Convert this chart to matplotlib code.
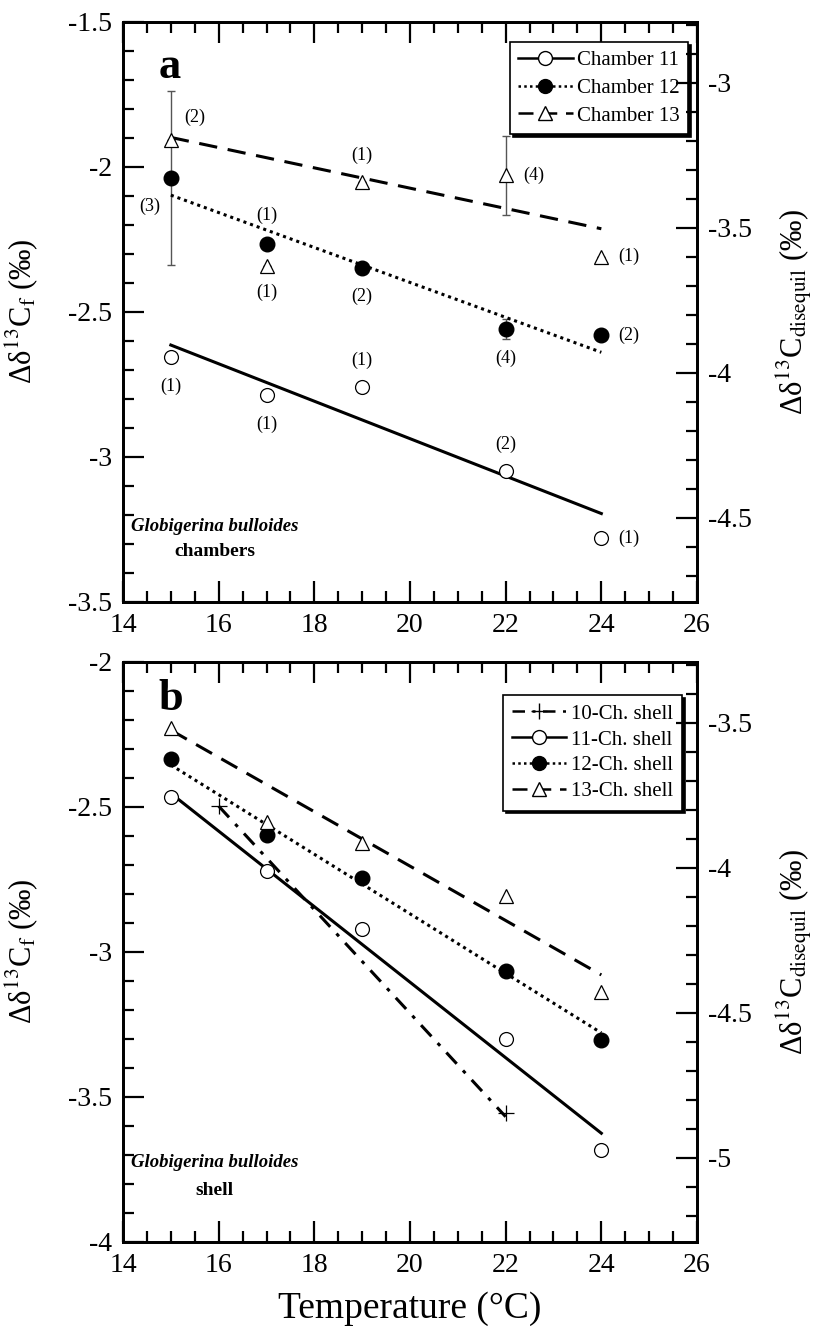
import numpy as np
import matplotlib.pyplot as plt
from matplotlib.ticker import MultipleLocator

plt.rcParams['font.family'] = ['Liberation Serif', 'DejaVu Serif']
plt.rcParams['mathtext.fontset'] = 'stix'

# temperatures (deg C)
temp = [15, 17, 19, 22, 24]

# panel a : individual chambers (Delta d13C_f, permil)
ch11_a = [-2.657, -2.787, -2.759, -3.05, -3.28]
ch12_a = [-2.040, -2.267, -2.348, -2.56, -2.58]
ch13_a = [-1.908, -2.343, -2.052, -2.03, -2.31]
n11_a = ['(1)', '(1)', '(1)', '(2)', '(1)']
n12_a = ['(3)', '(1)', '(2)', '(4)', '(2)']
n13_a = ['(2)', '(1)', '(1)', '(4)', '(1)']
err12_a = [0.30, 0, 0, 0.035, 0]
err13_a = [0, 0, 0, 0.135, 0]

# regression lines, panel a
fit_t = [15, 24]
fit11_a = [-2.615, -3.196]
fit12_a = [-2.098, -2.640]
fit13_a = [-1.899, -2.214]

# panel b : whole shells
temp10_b = [16, 22]
ch10_b = [-2.498, -3.557]
ch11_b = [-2.466, -2.722, -2.923, -3.302, -3.684]
ch12_b = [-2.336, -2.598, -2.747, -3.067, -3.305]
ch13_b = [-2.230, -2.552, -2.626, -2.808, -3.138]

fit10_t = [16, 22]
fit10_b = [-2.498, -3.569]
fit11_b = [-2.454, -3.626]
fit12_b = [-2.356, -3.280]
fit13_b = [-2.236, -3.080]

offset_right = 1.29   # Delta d13C_disequil = Delta d13C_f - offset

W, H = 823, 1332
fig = plt.figure(figsize=(W / 100, H / 100), dpi=100)
ax1 = fig.add_axes([123 / W, 1 - 601.7 / H, 574 / W, 580 / H])
ax2 = fig.add_axes([123 / W, 1 - 1241.7 / H, 574 / W, 580 / H])

lw_line = 2.2
dash = (0, (6, 3.5))
dot = (0, (1, 1.3))
dashdot = (0, (5, 3, 1.2, 3))

circ_open = dict(marker='o', ms=10, mfc='white', mec='k', mew=0.9, ls='none')
circ_fill = dict(marker='o', ms=10.5, mfc='k', mec='k', ls='none')
tri_open = dict(marker='^', ms=10, mfc='white', mec='k', mew=0.9, ls='none')
plus = dict(marker='+', ms=11, mec='k', mew=0.9, ls='none')

ylab_left = 'Δδ$^{13}$C$_{\\mathrm{f}}$ (‰)'
ylab_right = 'Δδ$^{13}$C$_{\\mathrm{disequil}}$ (‰)'


def style_axes(ax, ylo, yhi):
    ax.set_xlim(14, 26)
    ax.set_ylim(ylo, yhi)
    ax.xaxis.set_major_locator(MultipleLocator(2))
    ax.xaxis.set_minor_locator(MultipleLocator(0.5))
    ax.yaxis.set_major_locator(MultipleLocator(0.5))
    ax.yaxis.set_minor_locator(MultipleLocator(0.1))
    ax.tick_params(which='both', direction='in', top=True, right=False,
                   labelsize=20, width=1.6)
    ax.tick_params(which='major', length=15, pad=8)
    ax.tick_params(which='minor', length=8)
    for s in ax.spines.values():
        s.set_linewidth(2)
    ax.yaxis.set_major_formatter(plt.FuncFormatter(lambda v, p: '%g' % v))
    ax.xaxis.set_major_formatter(plt.FuncFormatter(lambda v, p: '%g' % v))
    ax.set_ylabel(ylab_left, fontsize=22)
    ax.yaxis.set_label_coords(-0.145, 0.5)

    axr = ax.twinx()
    axr.set_ylim(ylo - offset_right, yhi - offset_right)
    axr.yaxis.set_major_locator(MultipleLocator(0.5))
    axr.yaxis.set_minor_locator(MultipleLocator(0.1))
    axr.tick_params(which='both', direction='in', labelsize=20, width=1.6)
    axr.tick_params(which='major', length=15, pad=8)
    axr.tick_params(which='minor', length=8)
    axr.yaxis.set_major_formatter(plt.FuncFormatter(lambda v, p: '%g' % v))
    for s in axr.spines.values():
        s.set_linewidth(2)
    axr.set_ylabel(ylab_right, fontsize=22, rotation=90)
    axr.yaxis.set_label_coords(1.135, 0.5)
    return axr


# ---- panel a ----
style_axes(ax1, -3.5, -1.5)
ax1.errorbar(temp, ch12_a, yerr=err12_a, fmt='none', ecolor='#555555', elinewidth=1,
             capsize=3, capthick=1, zorder=1)
ax1.errorbar(temp, ch13_a, yerr=err13_a, fmt='none', ecolor='#555555', elinewidth=1,
             capsize=3, capthick=1, zorder=1)
ax1.plot(fit_t, fit11_a, color='k', lw=lw_line, ls='-')
ax1.plot(fit_t, fit12_a, color='k', lw=lw_line, ls=dot)
ax1.plot(fit_t, fit13_a, color='k', lw=lw_line, ls=dash)
ax1.plot(temp, ch11_a, **circ_open, zorder=3)
ax1.plot(temp, ch12_a, **circ_fill, zorder=3)
ax1.plot(temp, ch13_a, **tri_open, zorder=3)

# sample counts (text offsets in points)
off11 = [(0, -21), (0, -21), (0, 19), (0, 19), (20, 0)]
off12 = [(-15, -20), (0, 21), (0, -21), (0, -21), (20, 0)]
off13 = [(17, 16), (0, -19), (0, 19), (20, 0), (20, 0)]
for vals, labs, offs in [(ch11_a, n11_a, off11), (ch12_a, n12_a, off12),
                         (ch13_a, n13_a, off13)]:
    for t, v, s, o in zip(temp, vals, labs, offs):
        ax1.annotate(s, (t, v), xytext=o, textcoords='offset points',
                     ha='center', va='center', fontsize=13)

h1 = [ax1.plot([], [], color='k', lw=1.8, ls='-', marker='o', ms=10, mfc='white', mec='k')[0],
      ax1.plot([], [], color='k', lw=1.8, ls=dot, marker='o', ms=10, mfc='k', mec='k')[0],
      ax1.plot([], [], color='k', lw=1.8, ls=dash, marker='^', ms=10, mfc='white', mec='k')[0]]
leg1 = ax1.legend(h1, ['Chamber 11', 'Chamber 12', 'Chamber 13'], loc='upper right',
                  bbox_to_anchor=(0.984, 0.965), borderaxespad=0, fontsize=15,
                  fancybox=False, edgecolor='k', framealpha=1,
                  shadow={'color': 'k', 'alpha': 1}, handlelength=2.6,
                  handletextpad=0.2, labelspacing=0.4, borderpad=0.4)
leg1.get_frame().set_linewidth(1.2)

ax1.text(0.082, 0.922, 'a', transform=ax1.transAxes, fontsize=32, fontweight='bold',
         ha='center', va='center')
ax1.text(0.16, 0.13, 'Globigerina bulloides', transform=ax1.transAxes, fontsize=13.5,
         fontweight='bold', style='italic', ha='center', va='center')
ax1.text(0.16, 0.086, 'chambers', transform=ax1.transAxes, fontsize=14,
         fontweight='bold', ha='center', va='center')

# ---- panel b ----
style_axes(ax2, -4, -2)
ax2.plot(fit10_t, fit10_b, color='k', lw=lw_line, ls=dashdot)
ax2.plot(fit_t, fit11_b, color='k', lw=lw_line, ls='-')
ax2.plot(fit_t, fit12_b, color='k', lw=lw_line, ls=dot)
ax2.plot(fit_t, fit13_b, color='k', lw=lw_line, ls=dash)
ax2.plot(temp10_b, ch10_b, **plus, zorder=3)
ax2.plot(temp, ch11_b, **circ_open, zorder=3)
ax2.plot(temp, ch12_b, **circ_fill, zorder=3)
ax2.plot(temp, ch13_b, **tri_open, zorder=3)

h2 = [ax2.plot([], [], color='k', lw=1.8, ls=dashdot, marker='+', ms=11, mec='k')[0],
      ax2.plot([], [], color='k', lw=1.8, ls='-', marker='o', ms=10, mfc='white', mec='k')[0],
      ax2.plot([], [], color='k', lw=1.8, ls=dot, marker='o', ms=10, mfc='k', mec='k')[0],
      ax2.plot([], [], color='k', lw=1.8, ls=dash, marker='^', ms=10, mfc='white', mec='k')[0]]
leg2 = ax2.legend(h2, ['10-Ch. shell', '11-Ch. shell', '12-Ch. shell', '13-Ch. shell'],
                  loc='upper right', bbox_to_anchor=(0.974, 0.943), borderaxespad=0,
                  fontsize=15, fancybox=False, edgecolor='k', framealpha=1,
                  shadow={'color': 'k', 'alpha': 1}, handlelength=2.6,
                  handletextpad=0.2, labelspacing=0.3, borderpad=0.45)
leg2.get_frame().set_linewidth(1.2)

ax2.text(0.084, 0.936, 'b', transform=ax2.transAxes, fontsize=32, fontweight='bold',
         ha='center', va='center')
ax2.text(0.16, 0.136, 'Globigerina bulloides', transform=ax2.transAxes, fontsize=13.5,
         fontweight='bold', style='italic', ha='center', va='center')
ax2.text(0.16, 0.089, 'shell', transform=ax2.transAxes, fontsize=14,
         fontweight='bold', ha='center', va='center')
ax2.set_xlabel('Temperature (°C)', fontsize=27, labelpad=10)

fig.savefig('out.png', dpi=100)
